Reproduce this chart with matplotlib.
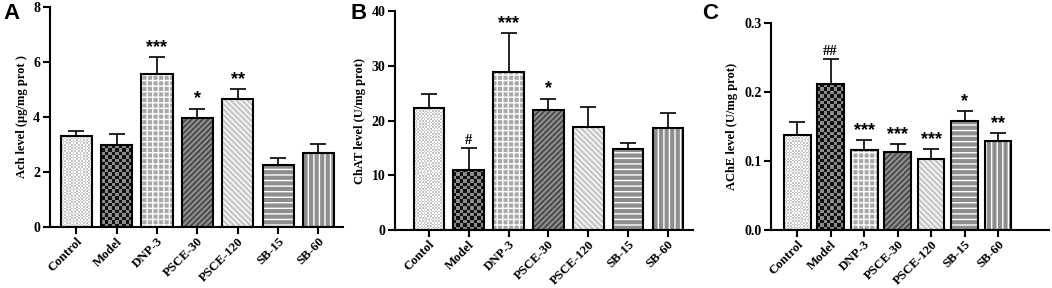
import numpy as np
import matplotlib
matplotlib.use('Agg')
import matplotlib.pyplot as plt

# data
groups_a = ['Control', 'Model', 'DNP-3', 'PSCE-30', 'PSCE-120', 'SB-15', 'SB-60']
groups_b = ['Contol', 'Model', 'DNP-3', 'PSCE-30', 'PSCE-120', 'SB-15', 'SB-60']
groups_c = ['Control', 'Model', 'DNP-3', 'PSCE-30', 'PSCE-120', 'SB-15', 'SB-60']

ach_mean = [3.30, 2.97, 5.55, 3.95, 4.65, 2.27, 2.70]
ach_err = [0.20, 0.41, 0.62, 0.35, 0.35, 0.23, 0.30]
ach_sig = ['', '', '***', '*', '**', '', '']

chat_mean = [22.3, 11.0, 28.9, 21.9, 18.8, 14.8, 18.6]
chat_err = [2.5, 4.0, 7.0, 2.1, 3.6, 1.1, 2.7]
chat_sig = ['', '#', '***', '*', '', '', '']

ache_mean = [0.138, 0.211, 0.116, 0.113, 0.103, 0.158, 0.129]
ache_err = [0.019, 0.037, 0.015, 0.012, 0.014, 0.015, 0.011]
ache_sig = ['', '##', '***', '***', '***', '*', '**']

# fill styles per group: (kind, face, hatch/second colour, hatch colour/cell size)
styles = [
    ('checker', '#ffffff', '#c4c4c4', 1.6),
    ('checker', '#8c8c8c', '#111111', 3.4),
    ('hatch', '#a8a8a8', '+++', '#ffffff'),
    ('hatch', '#8a8a8a', '//////', '#3a3a3a'),
    ('hatch', '#c8c8c8', '\\\\\\\\\\\\', '#ffffff'),
    ('hatch', '#8e8e8e', '---', '#ffffff'),
    ('hatch', '#8e8e8e', '|||', '#ffffff'),
]

plt.rcParams['hatch.linewidth'] = 1.0
serif = ['Liberation Serif', 'DejaVu Serif']
sans = ['Liberation Sans', 'DejaVu Sans']

fig = plt.figure(figsize=(10.52, 2.88), dpi=100)


def panel(rect, names, means, errs, sigs, ylim, yticks, ytl, ylabel, xlim, width):
    ax = fig.add_axes(rect)
    x = np.arange(len(names))
    ax.set_xlim(*xlim)
    ax.set_ylim(*ylim)
    for i in range(len(names)):
        st = styles[i]
        if st[0] == 'hatch':
            ax.bar(x[i], means[i], width, color=st[1], hatch=st[2], edgecolor=st[3], linewidth=0, zorder=2)
            ax.bar(x[i], means[i], width, fill=False, edgecolor='black', linewidth=1.5, zorder=3)
        else:
            b = ax.bar(x[i], means[i], width, fill=False, edgecolor='black', linewidth=1.5, zorder=3)[0]
            p0 = ax.transData.transform((b.get_x(), 0))
            p1 = ax.transData.transform((b.get_x() + b.get_width(), b.get_height()))
            nx = max(1, int(round((p1[0] - p0[0]) / st[3])))
            ny = max(1, int(round((p1[1] - p0[1]) / st[3])))
            board = (np.indices((ny, nx)).sum(axis=0) % 2).astype(float)
            cmap = matplotlib.colors.ListedColormap([st[1], st[2]])
            im = ax.imshow(board, cmap=cmap, interpolation='nearest', aspect='auto',
                           extent=(b.get_x(), b.get_x() + b.get_width(), 0, b.get_height()),
                           zorder=2)
            im.set_clip_path(b)
            ax.set_xlim(*xlim)
            ax.set_ylim(*ylim)
    ax.errorbar(x, means, yerr=[np.zeros(len(x)), errs], fmt='none', ecolor='black',
                elinewidth=1.2, capsize=6, capthick=1.2, zorder=1)
    span = ylim[1] - ylim[0]
    for i, s in enumerate(sigs):
        if s:
            fam = serif if '#' in s else sans
            ax.text(x[i], means[i] + errs[i] + span * 0.005, s, ha='center', va='bottom',
                    fontsize=13 if '*' in s else 10.5, fontweight='bold', family=fam)
    ax.set_yticks(yticks)
    ax.set_yticklabels(ytl, fontsize=10, fontweight='bold', family=serif)
    ax.set_xticks(x)
    ax.set_xticklabels(names, rotation=45, ha='right', rotation_mode='anchor',
                       fontsize=9.3, fontweight='bold', family=serif)
    ax.set_ylabel(ylabel, fontsize=9, fontweight='bold', family=serif, labelpad=4)
    for sp in ['top', 'right']:
        ax.spines[sp].set_visible(False)
    for sp in ['left', 'bottom']:
        ax.spines[sp].set_linewidth(1.5)
    ax.tick_params(axis='both', direction='out', length=5, width=1.5, pad=2)
    ax.tick_params(axis='x', pad=1)
    return ax


panel([0.0475, 0.212, 0.279, 0.764], groups_a, ach_mean, ach_err, ach_sig,
      (0, 8), [0, 2, 4, 6, 8], ['0', '2', '4', '6', '8'],
      'Ach level (μg/mg prot )', (-0.65, 6.62), 0.77)
panel([0.3755, 0.201, 0.2832, 0.761], groups_b, chat_mean, chat_err, chat_sig,
      (0, 40), [0, 10, 20, 30, 40], ['0', '10', '20', '30', '40'],
      'ChAT level (U/mg prot)', (-0.85, 6.63), 0.77)
panel([0.733, 0.201, 0.264, 0.719], groups_c, ache_mean, ache_err, ache_sig,
      (0, 0.3), [0, 0.1, 0.2, 0.3], ['0.0', '0.1', '0.2', '0.3'],
      'AChE level (U/mg prot)', (-0.78, 7.52), 0.8)

fig.text(0.003, 0.99, 'A', fontsize=16, fontweight='bold', family=sans, va='top')
fig.text(0.333, 0.99, 'B', fontsize=16, fontweight='bold', family=sans, va='top')
fig.text(0.667, 0.99, 'C', fontsize=16, fontweight='bold', family=sans, va='top')

fig.savefig('out.png', dpi=100)
